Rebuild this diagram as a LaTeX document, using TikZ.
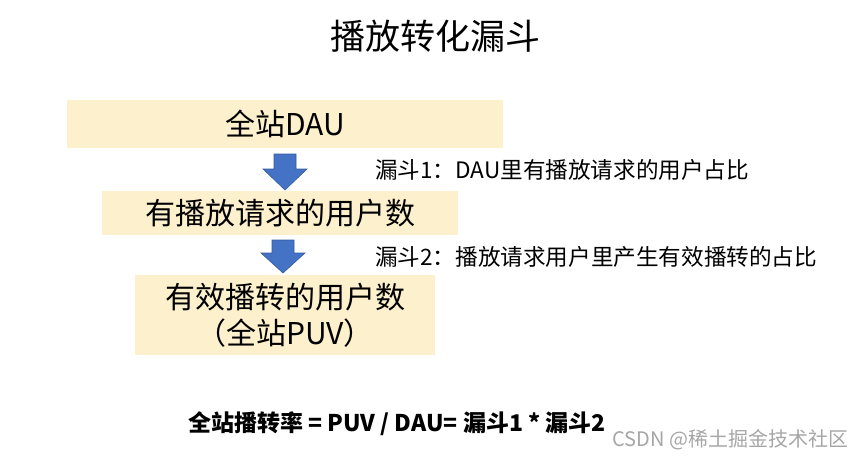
\documentclass[tikz,border=0pt]{standalone}
\usepackage{fontspec}
\setmainfont{Noto Sans CJK SC}
\usetikzlibrary{calc}
\begin{document}
\begin{tikzpicture}[x=1pt,y=-1pt,
  boxy/.style={fill=boxfill,draw=none,inner sep=0pt,font=\fontsize{30}{36}\selectfont},
  lbl/.style={anchor=west,font=\fontsize{22.6}{26}\selectfont,inner sep=0pt},
  blk/.style={fill=arrowblue,draw=arrowblue!80!black,line width=0.6pt}]
\definecolor{boxfill}{HTML}{FDF0CC}
\definecolor{arrowblue}{HTML}{4472C4}
\useasboundingbox (0,0) rectangle (865,463);
\node[font=\fontsize{35}{40}\selectfont] (title) at (435,36) {播放转化漏斗};
\node[boxy,minimum width=436pt,minimum height=48pt] (b1) at (285,124) {全站DAU};
\node[boxy,minimum width=356pt,minimum height=44pt] (b2) at (280,213) {有播放请求的用户数};
\node[boxy,minimum width=300pt,minimum height=80pt,align=center] (b3) at (285,315) {有效播转的用户数\\（全站PUV）};
\coordinate (a1) at (285,154);
\draw[blk] ($(a1)+(-11,0)$) -- ++(22,0) -- ++(0,15) -- ++(11,0) -- (285,190) -- (263,169) -- ++(11,0) -- cycle;
\draw[blk] (272,240) -- ++(22,0) -- ++(0,13) -- ++(11,0) -- (283,273) -- (261,253) -- ++(11,0) -- cycle;
\node[lbl] (l1) at (375,170) {漏斗1：DAU里有播放请求的用户占比};
\node[lbl] (l2) at (375,257) {漏斗2：播放请求用户里产生有效播转的占比};
\node[font=\bfseries\fontsize{23}{26}\selectfont] (f) at (397,424) {全站播转率 = PUV / DAU= 漏斗1 * 漏斗2};
\node[anchor=east,text=black!35,font=\fontsize{20}{22}\selectfont] (w) at (852,440) {CSDN @稀土掘金技术社区};
\end{tikzpicture}
\end{document}
